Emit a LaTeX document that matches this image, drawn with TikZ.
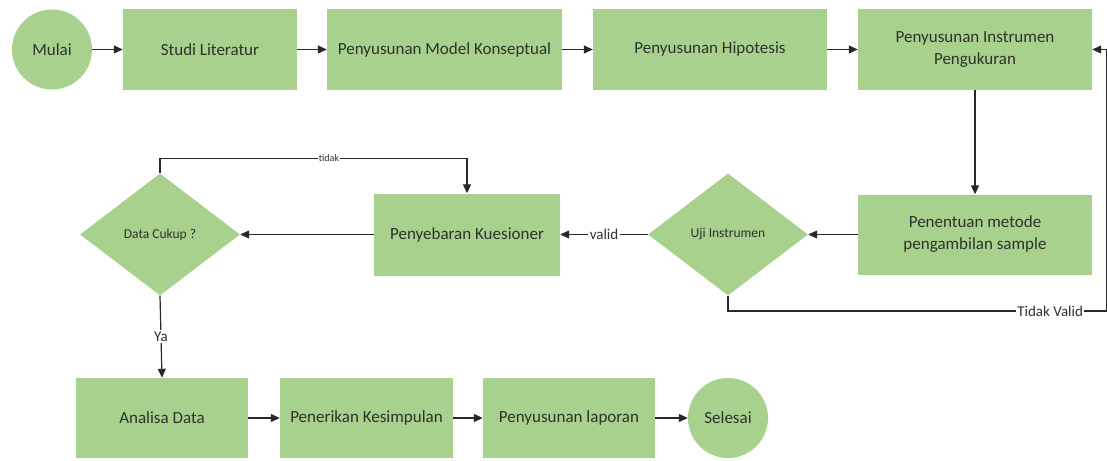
\documentclass[tikz,border=0pt]{standalone}
\usepackage{fontspec}
\setmainfont{Carlito}
\usetikzlibrary{shapes.geometric,arrows.meta}
\definecolor{boxgreen}{RGB}{169,209,142}
\definecolor{txtgray}{RGB}{45,50,43}
\definecolor{linegray}{RGB}{40,40,40}

\begin{document}
\begin{tikzpicture}[x=1pt,y=-1pt,
  proc/.style={rectangle, fill=boxgreen, minimum width=#1, minimum height=81pt,
    inner sep=0pt, align=center, text=txtgray, font=\fontsize{17}{22}\selectfont},
  proc/.default=174pt,
  term/.style={circle, fill=boxgreen, minimum size=80pt, inner sep=0pt,
    text=txtgray, font=\fontsize{17}{22}\selectfont},
  decide/.style={diamond, fill=boxgreen, minimum width=160pt, minimum height=122pt,
    inner sep=0pt, text=txtgray, font=\fontsize{13.5}{16}\selectfont},
  arr/.style={draw=linegray, line width=1.2pt, -{Triangle[length=9pt,width=8pt]}},
  lbl/.style={fill=white, inner sep=1.5pt, text=txtgray, font=\fontsize{15}{18}\selectfont},
  smalllbl/.style={fill=white, inner sep=1pt, text=txtgray, font=\fontsize{10}{12}\selectfont}
]
\useasboundingbox (0,0) rectangle (1107,460);

% top row
\node[term] (mulai) at (52,49.5) {Mulai};
\node[proc=174pt] (studi) at (210,49.5) {Studi Literatur};
\node[proc=235pt] (model) at (444.5,49.5) {Penyusunan Model Konseptual};
\node[proc=234pt] (hipo) at (710,49.5) {Penyusunan Hipotesis};
\node[proc=234pt] (instr) at (975,49.5) {Penyusunan Instrumen\\Pengukuran};

% middle row
\node[proc=234pt, minimum height=80pt] (metode) at (975,234.5) {Penentuan metode\\pengambilan sample};
\node[decide] (uji) at (728,234.5) {Uji Instrumen};
\node[proc=186pt, minimum height=82pt] (sebar) at (467,234.5) {Penyebaran Kuesioner};
\node[decide] (cukup) at (160,234.5) {Data Cukup ?};

% bottom row
\node[proc=172pt, minimum height=80pt] (analisa) at (162,418) {Analisa Data};
\node[proc=173pt, minimum height=80pt] (simpul) at (366.5,418) {Penerikan Kesimpulan};
\node[proc=172pt, minimum height=80pt] (lapor) at (569,418) {Penyusunan laporan};
\node[term] (selesai) at (728,418) {Selesai};

% corner of the "Tidak Valid" return route, at the right edge
\coordinate (rail) at (1107,311);

% connectors
\draw[arr] (mulai) -- (studi);
\draw[arr] (studi) -- (model);
\draw[arr] (model) -- (hipo);
\draw[arr] (hipo) -- (instr);
\draw[arr] (instr.south) -- (metode.north);
\draw[arr] (metode.west) -- (uji.east);
\draw[arr] (uji.west) -- node[lbl] {valid} (sebar.east);
\draw[arr] (sebar.west) -- (cukup.east);
\draw[arr] (cukup.north) -- ++(0,-15) coordinate (ctop)
  -- node[smalllbl, pos=0.55] {tidak} (ctop -| sebar.north) -- (sebar.north);
\draw[arr] (cukup.south) -- node[lbl] {Ya} (analisa.north);
\draw[arr] (analisa) -- (simpul);
\draw[arr] (simpul) -- (lapor);
\draw[arr] (lapor) -- (selesai);
\draw[arr] (uji.south) |- node[lbl, pos=0.925] {Tidak Valid} (rail)
  -- (rail |- instr.east) -- (instr.east);
\end{tikzpicture}
\end{document}
